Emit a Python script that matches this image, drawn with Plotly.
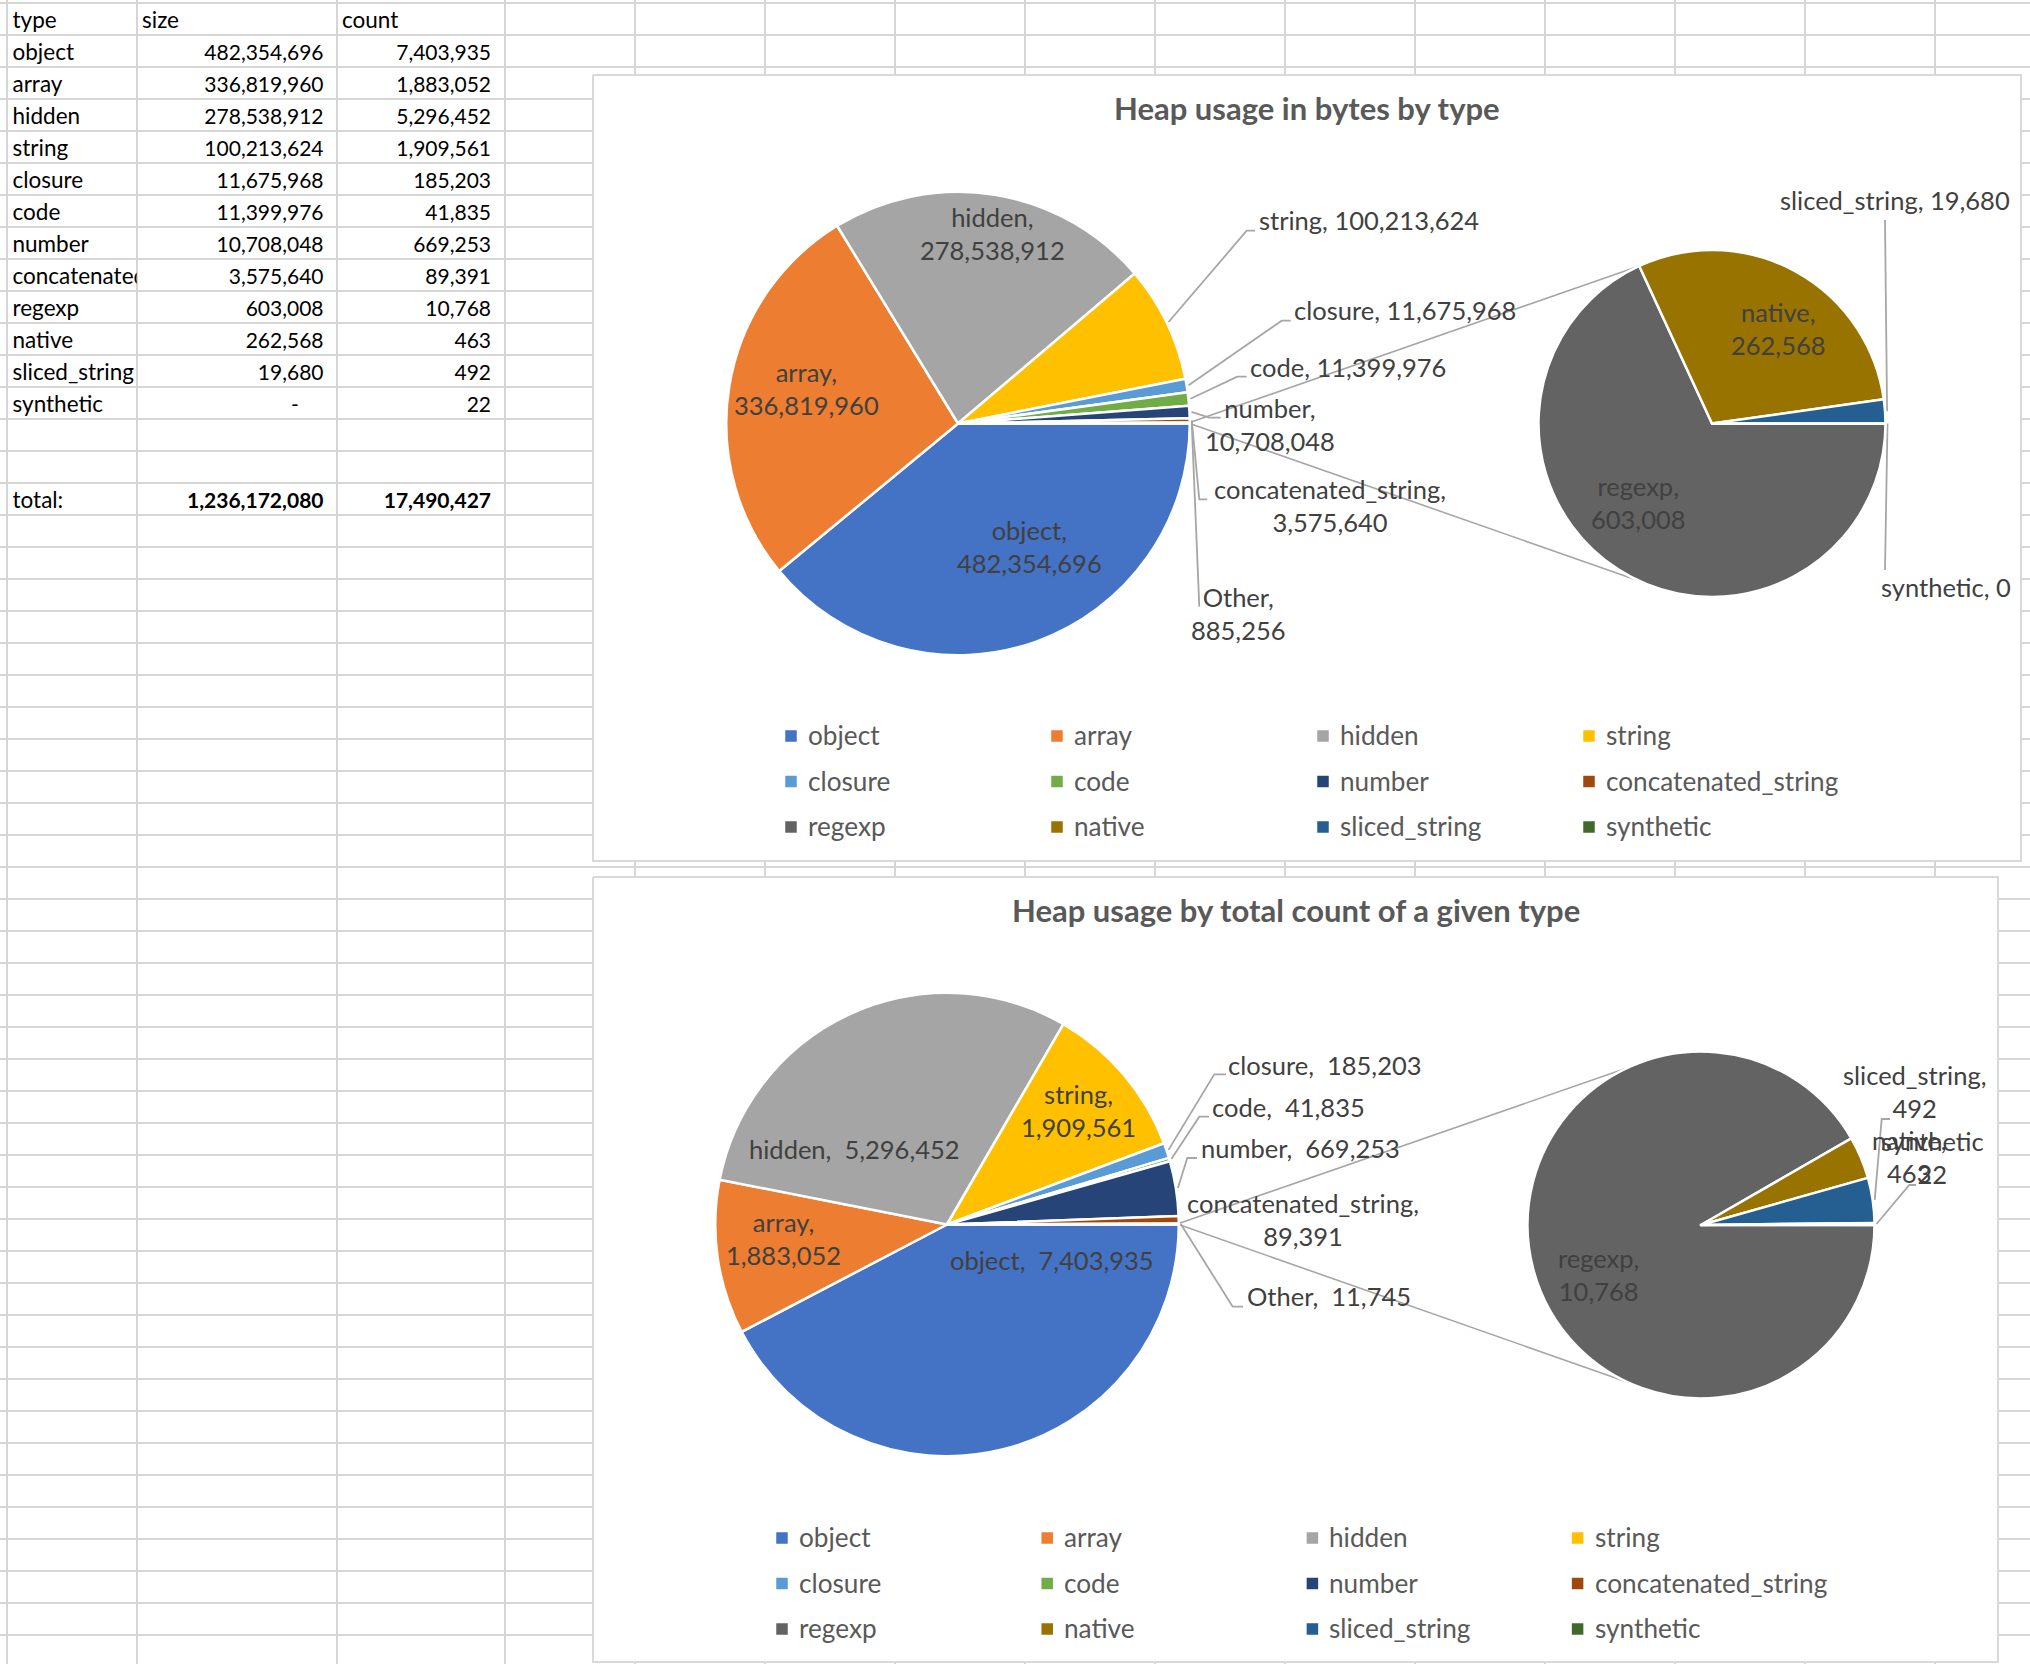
import math
import plotly.graph_objects as go

W, H = 2030, 1664

# ---------------- data ----------------
types = ["object", "array", "hidden", "string", "closure", "code", "number",
         "concatenated_string", "regexp", "native", "sliced_string", "synthetic"]
sizes = [482354696, 336819960, 278538912, 100213624, 11675968, 11399976,
         10708048, 3575640, 603008, 262568, 19680, 0]
counts = [7403935, 1883052, 5296452, 1909561, 185203, 41835, 669253,
          89391, 10768, 463, 492, 22]
colors = ["#4472C4", "#ED7D31", "#A5A5A5", "#FFC000", "#5B9BD5", "#70AD47",
          "#264478", "#9E480E", "#636363", "#997300", "#255E91", "#43682B"]
headers = ["type", "size", "count"]
total_label = "total:"
other_label = "Other"
titles = ["Heap usage in bytes by type", "Heap usage by total count of a given type"]
n_main = 8  # first 8 types in the primary pie, the rest go to the secondary pie

# ---------------- styling / layout constants ----------------
FONT = "Lato, 'Open Sans', sans-serif"
GRID_C = "#D6D6D6"
LABEL_C = "#404040"
LEG_C = "#595959"
LINE_C = "#A6A6A6"
TABLE_FS = 21
TABLE_TXT_FS = 22.5
LABEL_FS = 25.5
LEG_FS = 26.2
TITLE_FS = 31
TEXT_DY = -2.5   # vertical nudge for chart texts

col_lines = [6.9, 136.7, 337.0, 505.0] + [635.0 + 130.0 * k for k in range(11)]
ROW0, ROW_H = 2.8, 32.0
row_lines = [ROW0 + ROW_H * k for k in range(53)]


def row_mid(i):
    return ROW0 + ROW_H * (i + 0.5) + 3.5


fig = go.Figure()
ann = []

# ---------------- chart frames (white panels over the sheet grid) ----------------
charts = [
    dict(values=sizes, sep=", ", frame=(593, 75, 2021, 861),
         main=(958.0, 423.5, 231.75), sec=(1712.0, 423.5, 173.5),
         leg=(791.0, 266.0, 735.0), title=titles[0],
         labels={
             "object": dict(pos=(1029, 548.5), wrap=True),
             "array": dict(pos=(806.5, 391), wrap=True),
             "hidden": dict(pos=(992, 236), wrap=True),
             "string": dict(pos=(1257, 222.3), anchor="left", leader=[(1246.7, 230.7), (1255, 230.7)]),
             "closure": dict(pos=(1291.5, 312.7), anchor="left", leader=[(1281.7, 320.7), (1290.7, 320.7)]),
             "code": dict(pos=(1248, 369.3), anchor="left", leader=[(1237.3, 376.7), (1246.7, 376.7)]),
             "number": dict(pos=(1270, 426.7), wrap=True, leader=[(1209.3, 417.7), (1220.7, 417.7)]),
             "concatenated_string": dict(pos=(1329.5, 507.7), wrap=True, leader=[(1199.3, 499.3), (1207.3, 499.3)]),
             other_label: dict(pos=(1238, 615.5), wrap=True, leader=[(1199.3, 606.7)]),
             "regexp": dict(pos=(1638.3, 504.5), wrap=True),
             "native": dict(pos=(1778, 330.5), wrap=True),
             "sliced_string": dict(pos=(1895, 202.7), leader=[(1885, 220)]),
             "synthetic": dict(pos=(1946, 589.3), leader=[(1885, 570)]),
         }),
    dict(values=counts, sep=",  ", frame=(593, 877, 1998, 1662),
         main=(947.0, 1224.5, 231.75), sec=(1701.0, 1225.0, 173.5),
         leg=(782.0, 265.2, 1537.0), title=titles[1],
         labels={
             "object": dict(pos=(1052, 1262)),
             "array": dict(pos=(783, 1241), wrap=True),
             "hidden": dict(pos=(854, 1151.5)),
             "string": dict(pos=(1078, 1112.5), wrap=True),
             "closure": dict(pos=(1226, 1067.3), anchor="left", leader=[(1214.3, 1074.3), (1226, 1074.3)]),
             "code": dict(pos=(1209.5, 1109.3), anchor="left", leader=[(1199.3, 1116.7), (1209, 1116.7)]),
             "number": dict(pos=(1198.5, 1150.7), anchor="left", leader=[(1187.3, 1158), (1197, 1158)]),
             "concatenated_string": dict(pos=(1302.5, 1222), wrap=True),
             other_label: dict(pos=(1244.5, 1298.3), anchor="left", leader=[(1232.7, 1306.7), (1243, 1306.7)]),
             "regexp": dict(pos=(1598, 1277), wrap=True),
             "native": dict(pos=(1909, 1158.7), wrap=True),
             "sliced_string": dict(pos=(1914, 1094), wrap=True, leader=[(1881.7, 1119), (1890, 1119)]),
             "synthetic": dict(pos=(1932, 1160), wrap=True, nocomma=True, leader=[(1909.3, 1185), (1916, 1185)]),
         }),
]

for ch in charts:
    x0, y0, x1, y1 = ch["frame"]
    fig.add_trace(go.Scatter(x=[x0, x1, x1, x0, x0], y=[y0, y0, y1, y1, y0], mode="lines",
                             fill="toself", fillcolor="white",
                             line=dict(color="#D9D9D9", width=2),
                             hoverinfo="skip", showlegend=False))

# ---------------- spreadsheet table ----------------
n = len(types)
total_row = n + 3
tf = dict(family=FONT, size=TABLE_FS, color="#000000")
tf_txt = dict(family=FONT, size=TABLE_TXT_FS, color="#000000")

# type column (clipped at its cell border like the spreadsheet)
fig.add_trace(go.Scatter(
    x=[12.5] * (n + 2),
    y=[row_mid(0)] + [row_mid(i + 1) for i in range(n)] + [row_mid(total_row)],
    text=[headers[0]] + types + [total_label],
    mode="text", textposition="middle right", textfont=tf_txt,
    xaxis="x2", yaxis="y2", hoverinfo="skip", showlegend=False, cliponaxis=True))

# header labels
fig.add_trace(go.Scatter(x=[142.0, 342.0], y=[row_mid(0)] * 2, text=headers[1:],
                         mode="text", textposition="middle right", textfont=tf_txt,
                         hoverinfo="skip", showlegend=False))


def num_col(vals, right_x, dash_x):
    xs, ys, ts, ps = [], [], [], []
    for i, v in enumerate(vals):
        ys.append(row_mid(i + 1))
        if v == 0:
            xs.append(dash_x); ts.append("-"); ps.append("middle center")
        else:
            xs.append(right_x); ts.append(f"{v:,}"); ps.append("middle left")
    ys.append(row_mid(total_row)); xs.append(right_x)
    ts.append(f"<b>{sum(vals):,}</b>"); ps.append("middle left")
    fig.add_trace(go.Scatter(x=xs, y=ys, text=ts, mode="text", textposition=ps,
                             textfont=tf, hoverinfo="skip", showlegend=False))


num_col(sizes, 323.5, 295.0)
num_col(counts, 491.0, 295.0 + 168.0)


# ---------------- pie-of-pie charts ----------------
def domain(c):
    cx, cy, r = c
    return dict(x=[(cx - r) / W, (cx + r) / W], y=[1 - (cy + r) / H, 1 - (cy - r) / H])


def slice_angles(vals):
    tot = float(sum(vals))
    out, acc = [], 0.0
    for v in vals:
        a0 = acc / tot * 360.0
        acc += v
        a1 = acc / tot * 360.0
        out.append((a0, (a0 + a1) / 2.0, a1))
    return out


def on_circle(c, ang, dr=0.0):
    cx, cy, r = c
    t = math.radians(ang)
    return (cx + (r + dr) * math.cos(t), cy + (r + dr) * math.sin(t))


def add_line(pts, width=1.8):
    fig.add_trace(go.Scatter(x=[p[0] for p in pts], y=[p[1] for p in pts], mode="lines",
                             line=dict(color=LINE_C, width=width),
                             hoverinfo="skip", showlegend=False))


for ch in charts:
    vals = ch["values"]
    main_labels = types[:n_main] + [other_label]
    main_vals = vals[:n_main] + [sum(vals[n_main:])]
    main_cols = colors[:n_main] + [colors[n_main]]
    sec_labels = types[n_main:]
    sec_vals = vals[n_main:]
    sec_cols = colors[n_main:]

    for labs, vs, cols, c in ((main_labels, main_vals, main_cols, ch["main"]),
                              (sec_labels, sec_vals, sec_cols, ch["sec"])):
        fig.add_trace(go.Pie(labels=labs, values=vs, sort=False, direction="clockwise",
                             rotation=90, domain=domain(c), textinfo="none",
                             marker=dict(colors=cols, line=dict(color="white", width=2.5)),
                             hoverinfo="label+value", showlegend=False))

    main_ang = slice_angles(main_vals)
    sec_ang = slice_angles(sec_vals)

    # series lines joining the "Other" slice to the secondary pie
    oa0, _, oa1 = main_ang[-1]
    add_line([on_circle(ch["main"], oa0), on_circle(ch["sec"], 245.0)], 1.6)
    add_line([on_circle(ch["main"], oa1), on_circle(ch["sec"], 115.0)], 1.6)

    # data labels + leader lines
    lookup = {}
    for i, lab in enumerate(main_labels):
        lookup[lab] = (main_vals[i], main_ang[i][1], ch["main"])
    for i, lab in enumerate(sec_labels):
        lookup[lab] = (sec_vals[i], sec_ang[i][1], ch["sec"])

    for lab, spec in ch["labels"].items():
        v, mid, c = lookup[lab]
        if spec.get("wrap"):
            txt = f"{lab}<br>{v:,}" if spec.get("nocomma") else f"{lab},<br>{v:,}"
        else:
            txt = f"{lab}{ch['sep']}{v:,}"
        x, y = spec["pos"]
        ann.append(dict(x=x, y=y + TEXT_DY, xref="x", yref="y", text=txt, showarrow=False,
                        xanchor=spec.get("anchor", "center"), yanchor="middle", align="center",
                        font=dict(family=FONT, size=LABEL_FS, color=LABEL_C)))
        if "leader" in spec:
            add_line([on_circle(c, mid, 2.0)] + spec["leader"])

    # title
    fx0, fy0, fx1, fy1 = ch["frame"]
    ann.append(dict(x=(fx0 + fx1) / 2.0, y=fy0 + 35.5 + TEXT_DY, xref="x", yref="y",
                    text=f"<b>{ch['title']}</b>", showarrow=False, xanchor="center", yanchor="middle",
                    font=dict(family=FONT, size=TITLE_FS, color=LEG_C)))

    # legend (4 columns x 3 rows)
    lx0, pitch, ly0 = ch["leg"]
    mx, my = [], []
    for k, t in enumerate(types):
        cx = lx0 + pitch * (k % 4)
        cy = ly0 + 45.5 * (k // 4)
        mx.append(cx); my.append(cy + 1.0)
        ann.append(dict(x=cx + 15.0, y=cy, xref="x", yref="y", text=t, showarrow=False,
                        xanchor="left", yanchor="middle",
                        font=dict(family=FONT, size=LEG_FS, color=LEG_C)))
    fig.add_trace(go.Scatter(x=mx, y=my, mode="markers",
                             marker=dict(symbol="square", size=11.5, color=colors, line=dict(width=0)),
                             hoverinfo="skip", showlegend=False))

fig.update_layout(
    width=W, height=H, margin=dict(l=0, r=0, t=0, b=0, pad=0),
    paper_bgcolor="white", plot_bgcolor="rgba(0,0,0,0)", showlegend=False,
    xaxis=dict(domain=[0, 1], range=[0, W], tickmode="array", tickvals=col_lines,
               showgrid=True, gridcolor=GRID_C, gridwidth=2, showticklabels=False,
               ticks="", zeroline=False, showline=False, fixedrange=True),
    yaxis=dict(domain=[0, 1], range=[H, 0], tickmode="array", tickvals=row_lines,
               showgrid=True, gridcolor=GRID_C, gridwidth=2, showticklabels=False,
               ticks="", zeroline=False, showline=False, fixedrange=True),
    xaxis2=dict(domain=[0, col_lines[1] / W], range=[0, col_lines[1]], visible=False,
                anchor="y2", fixedrange=True),
    yaxis2=dict(domain=[0, 1], range=[H, 0], visible=False, anchor="x2", fixedrange=True),
    annotations=ann,
)

# remove the browser's default 8px body margin so page pixels match the layout
fig.write_html("out.html", config={"displayModeBar": False},
               post_script="document.body.style.margin='0px';")
